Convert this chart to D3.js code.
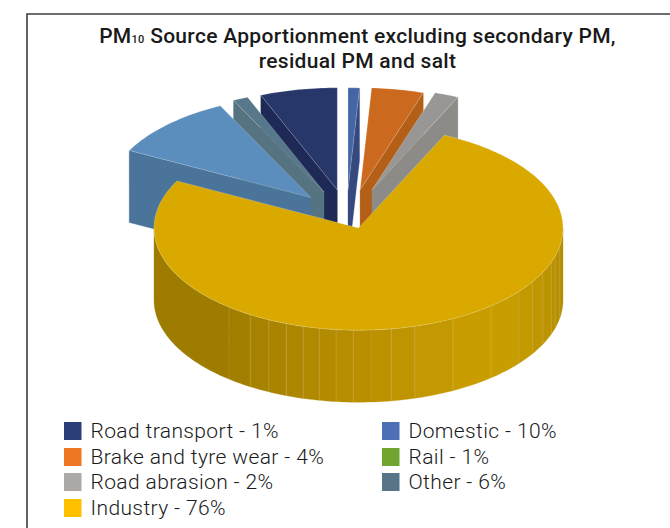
<!DOCTYPE html>
<html><head><meta charset="utf-8">
<script src="https://cdn.jsdelivr.net/npm/d3@7/dist/d3.min.js"></script>
<style>html,body{margin:0;padding:0;background:#fff}svg{display:block}</style>
</head><body><svg id="c" width="670" height="528"></svg>
<script>
// ---- data (clockwise from 12 o'clock)
const sliceNames  = ["Road transport","Brake and tyre wear","Road abrasion","Industry","Domestic","Rail","Other"];
const sliceValues = [0.9,4.1,1.9,75.7,10.1,1.2,6.1];
const sliceTop    = ["#4566a6","#cb6a1f","#989795","#d9a900","#5b8dbd","#56788a","#27376a"];
const sliceWall   = ["#36497e","#b45f18","#8c8b87","#9b7a00","#4a7499","#567382","#1e2a55"];
const explodeDist = [59,60.3,63.9,20.2,57.3,59.8,59.9];
const explodeDir  = [0.5,12,22.5,147,-39.8,-23.1,-9.8];
const drawOrder   = [6,5,4,0,1,2,3];
const legendLabels= ["Road transport - 1%","Domestic - 10%","Brake and tyre wear - 4%","Rail - 1%","Road abrasion - 2%","Other - 6%","Industry - 76%"];
const legendColors= ["#2c3e76","#4d6fb5","#ed7723","#70a52f","#aca8a6","#587587","#ffc000"];
// outer-wall facets: degrees either side of the front of the disc
const facetAngles = [-90,-39.3,-32,-26,-20.7,-15.7,-11.1,-6.3,-1.5,3.5,9.2,16,27.5,40.4,51.7,58.5,64.4,70.4,74,80,90];
const facetStops  = [-90,-40,0,40,60,90];
const facetColors = ["#9b7a00","#9f7d00","#b98f00","#cca000","#c09700","#b08a00"];

const svg=d3.select("#c");
const font="Roboto, sans-serif";
const cx=347.5, cy=219.5, R=204.5, squash=0.5, depth=72;
const rad=d3.scaleLinear().domain([0,180]).range([0,Math.PI]);
const pie=d3.pie().sort(null).value(d=>d).startAngle(0).endAngle(2*Math.PI);
const arcs=pie(sliceValues);
const line=d3.line();
const pt=(ox,oy,r,a,dz=0)=>[ox+r*Math.sin(a),oy-r*squash*Math.cos(a)+dz];
const arcPts=(ox,oy,a0,a1,dz=0)=>{const n=Math.max(2,Math.ceil(Math.abs(a1-a0)/0.02));
  return d3.range(n+1).map(i=>pt(ox,oy,R,a0+(a1-a0)*i/n,dz));};

// frame
svg.append("path").attr("d","M27,528V14H670").attr("fill","none").attr("stroke","#3c3c3c").attr("stroke-width",1.6);

const facetScale=d3.scaleLinear().domain(facetStops).range(facetColors);
drawOrder.forEach(i=>{
  const s=arcs[i], dir=rad(explodeDir[i]);
  const [ox,oy]=pt(cx,cy,explodeDist[i],dir);
  const g=svg.append("g");
  const apex=[ox,oy];
  const face=a=>{const e=pt(ox,oy,R,a);
    g.append("path").attr("d",line([apex,e,[e[0],e[1]+depth],[ox,oy+depth]])+"Z")
     .attr("fill",sliceWall[i]).attr("stroke",sliceWall[i]).attr("stroke-width",0.3);};
  if(Math.sin(s.startAngle)<0) face(s.startAngle);
  if(Math.sin(s.endAngle)>0) face(s.endAngle);
  // outer wall, facet by facet, for the part of the rim facing the viewer
  d3.pairs(facetAngles).forEach(([f0,f1])=>{
    const a0=Math.max(rad(180-f1),s.startAngle), a1=Math.min(rad(180-f0),s.endAngle);
    if(a1<=a0) return;
    const top=arcPts(ox,oy,a0,a1), bot=arcPts(ox,oy,a1,a0,depth);
    const col=facetScale((f0+f1)/2);
    g.append("path").attr("d",line(top.concat(bot))+"Z").attr("fill",col).attr("stroke",col).attr("stroke-width",0.3);
    if(f0>-90) g.append("path").attr("d",line([pt(ox,oy,R,a1),pt(ox,oy,R,a1,depth)]))
      .attr("stroke","#fff").attr("stroke-opacity",0.16).attr("stroke-width",0.8).attr("fill","none");
  });
  g.append("path").attr("d",line([apex].concat(arcPts(ox,oy,s.startAngle,s.endAngle)))+"Z")
    .attr("fill",sliceTop[i]).attr("stroke","#fff").attr("stroke-opacity",0.35).attr("stroke-width",0.6).attr("stroke-linejoin","round");
});

// title
const title=svg.append("g").attr("font-family",font).attr("font-weight",500).attr("fill","#1a1a1a").attr("text-anchor","middle").attr("letter-spacing",0.3);
const t1=title.append("text").attr("x",357.5).attr("y",43).attr("font-size",21);
t1.append("tspan").text("PM");
t1.append("tspan").attr("font-size",11).text("10");
t1.append("tspan").text(" Source Apportionment excluding secondary PM,");
title.append("text").attr("x",357.5).attr("y",68).attr("font-size",21).text("residual PM and salt");

// legend
const colX=[64,382], rowY=[422,448,473,499];
legendLabels.forEach((l,i)=>{
  const x=colX[i%2], y=rowY[Math.floor(i/2)];
  svg.append("rect").attr("x",x).attr("y",y).attr("width",17.5).attr("height",18).attr("fill",legendColors[i]);
  svg.append("text").attr("x",x+26.5).attr("y",y+16).attr("font-family",font).attr("font-weight",300).attr("font-size",21).attr("letter-spacing",0.38).attr("fill","#1a1a1a").text(l);
});
</script></body></html>
